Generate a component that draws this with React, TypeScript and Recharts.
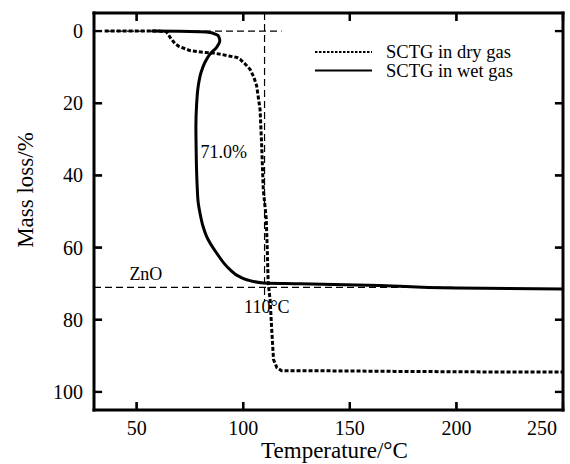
import { LineChart, Line, XAxis, YAxis, ReferenceLine, ReferenceDot, Legend } from 'recharts';

// SCTG in dry gas (dotted)
const dryTemp = [35, 50, 60, 64, 66, 68, 70, 75, 81, 86, 90, 94, 97, 98.5, 101, 103.2, 105, 106.3, 107.9, 108.6, 109.4, 110.8, 111.3, 111.7, 112.6, 113.3, 114.2, 115.8, 118, 130, 150, 171, 200, 230, 250];
const dryMass = [0, 0, 0, 0.2, 2, 3.5, 4.3, 5.4, 5.9, 6.1, 6.5, 7.0, 7.3, 7.8, 9.2, 10.6, 12.8, 15.2, 21.7, 30.9, 43.9, 52, 61, 69.7, 74.4, 82, 91, 93.3, 94.1, 94.1, 94.2, 94.3, 94.4, 94.5, 94.5];

// SCTG in wet gas (solid) - mass rises steadily, temperature doubles back
const wetTemp = [57, 70, 80, 84.4, 87, 88.3, 89, 87.5, 84.4, 82, 80.2, 78.9, 78.1, 77.8, 77.9, 78.1, 78.4, 78.9, 79.7, 81, 82.8, 87.5, 93.8, 98, 101.6, 109.4, 126.6, 164, 200, 250];
const wetMass = [0, 0.05, 0.2, 0.4, 0.9, 1.3, 2.7, 4.5, 6.4, 8.7, 11.5, 15.2, 20.7, 26.3, 32, 38.3, 43, 47.6, 50.4, 53.8, 56.9, 61.5, 66.1, 68, 68.9, 69.8, 70, 70.5, 71.2, 71.5];

const xTicks = [50, 100, 150, 200, 250];
const yTicks = [0, 20, 40, 60, 80, 100];

const X_DOMAIN: [number, number] = [30, 250];
const Y_DOMAIN: [number, number] = [-5, 105];

const dryData = dryTemp.map((t, i) => ({ t, m: dryMass[i] }));
const wetData = wetTemp.map((t, i) => ({ t, m: wetMass[i] }));

const FONT = '"Liberation Serif", "Times New Roman", serif';
const serif = { fontFamily: FONT };

// inward tick length, in data units (~8px each way)
const TX = 3.8;
const TY = 2.2;

const BottomTick = ({ x, y, payload }: any) => {
  const last = payload.value === 250;
  return (
    <text x={last ? x - 1 : x} y={y} textAnchor={last ? 'end' : 'middle'} fontSize={20} style={serif} fill="#000">
      {payload.value}
    </text>
  );
};

const LeftTick = ({ x, y, payload }: any) => (
  <text x={x} y={y} dy="0.35em" textAnchor="end" fontSize={20} style={serif} fill="#000">
    {payload.value}
  </text>
);

const NoLabel = () => <g />;

const textAt = (value: string) => (p: any) => (
  <text x={p.viewBox.x} y={p.viewBox.y} fontSize={18} style={serif} fill="#000">
    {value}
  </text>
);

const legendItems = [
  { name: 'SCTG in dry gas', dash: '2.5 1.5' },
  { name: 'SCTG in wet gas', dash: undefined },
];

const renderLegend = () => (
  <svg width={240} height={50}>
    {legendItems.map((it, i) => (
      <g key={it.name}>
        <line x1={0} x2={57} y1={10 + i * 18.5} y2={10 + i * 18.5} stroke="#000" strokeWidth={2} strokeDasharray={it.dash} />
        <text x={71} y={16 + i * 18.5} fontSize={18.5} style={serif} fill="#000">
          {it.name}
        </text>
      </g>
    ))}
  </svg>
);

const axisLine = { stroke: '#000', strokeWidth: 3, strokeLinecap: 'square' as const };
const tickLine = { stroke: '#000', strokeWidth: 2.2 };
const refDash = { stroke: '#000', strokeWidth: 1.2, strokeDasharray: '7 4' };
const tickMark = { stroke: '#000', strokeWidth: 2.2, ifOverflow: 'visible' as const };

export default function App() {
  return (
    <div style={{ position: 'absolute', left: 0, top: 0, background: '#fff' }}>
      <LineChart width={570} height={464} margin={{ top: 12, right: 6, bottom: 0, left: 0 }} style={serif}>
        {/* negative tickSize: tick marks point into the plot */}
        <XAxis
          xAxisId="b"
          dataKey="t"
          type="number"
          domain={X_DOMAIN}
          allowDataOverflow
          ticks={xTicks}
          orientation="bottom"
          height={54}
          axisLine={axisLine}
          tickLine={tickLine}
          tickSize={-8}
          tickMargin={33}
          tick={<BottomTick />}
          label={(p: any) => (
            <text x={p.viewBox.x + p.viewBox.width / 2 + 6} y={p.viewBox.y + 48} textAnchor="middle" fontSize={23} style={serif} fill="#000">
              Temperature/°C
            </text>
          )}
        />
        <XAxis
          xAxisId="t"
          dataKey="t"
          type="number"
          domain={X_DOMAIN}
          allowDataOverflow
          ticks={xTicks}
          orientation="top"
          height={1}
          axisLine={axisLine}
          tickLine={tickLine}
          tickSize={-8}
          tick={<NoLabel />}
        />
        <YAxis
          yAxisId="l"
          type="number"
          domain={Y_DOMAIN}
          allowDataOverflow
          reversed
          ticks={yTicks}
          orientation="left"
          width={94}
          axisLine={axisLine}
          tickLine={tickLine}
          tickSize={-8}
          tickMargin={19}
          tick={<LeftTick />}
          label={(p: any) => (
            <text transform={`translate(${p.viewBox.x + 33},190) rotate(-90)`} textAnchor="middle" fontSize={23} style={serif} fill="#000">
              Mass loss/%
            </text>
          )}
        />
        <YAxis
          yAxisId="r"
          type="number"
          domain={Y_DOMAIN}
          allowDataOverflow
          reversed
          ticks={yTicks}
          orientation="right"
          width={1}
          axisLine={axisLine}
          tickLine={tickLine}
          tickSize={-8}
          tick={<NoLabel />}
        />

        {/* same inward marks again through the scales, in case the axis tick lines are skipped */}
        {xTicks.map((v) => (
          <ReferenceLine key={`b${v}`} xAxisId="b" yAxisId="l" segment={[{ x: v, y: Y_DOMAIN[1] }, { x: v, y: Y_DOMAIN[1] - TY }]} {...tickMark} />
        ))}
        {xTicks.map((v) => (
          <ReferenceLine key={`t${v}`} xAxisId="b" yAxisId="l" segment={[{ x: v, y: Y_DOMAIN[0] }, { x: v, y: Y_DOMAIN[0] + TY }]} {...tickMark} />
        ))}
        {yTicks.map((v) => (
          <ReferenceLine key={`l${v}`} xAxisId="b" yAxisId="l" segment={[{ x: X_DOMAIN[0], y: v }, { x: X_DOMAIN[0] + TX, y: v }]} {...tickMark} />
        ))}
        {yTicks.map((v) => (
          <ReferenceLine key={`r${v}`} xAxisId="b" yAxisId="l" segment={[{ x: X_DOMAIN[1], y: v }, { x: X_DOMAIN[1] - TX, y: v }]} {...tickMark} />
        ))}

        <ReferenceLine xAxisId="b" yAxisId="l" segment={[{ x: 30, y: 0 }, { x: 118, y: 0 }]} {...refDash} />
        <ReferenceLine xAxisId="b" yAxisId="l" segment={[{ x: 110, y: -5 }, { x: 110, y: 75 }]} {...refDash} />
        <ReferenceLine xAxisId="b" yAxisId="l" segment={[{ x: 30, y: 71 }, { x: 200, y: 71 }]} {...refDash} />

        <Line
          xAxisId="b"
          yAxisId="l"
          data={wetData}
          dataKey="m"
          type="monotoneY"
          stroke="#000"
          strokeWidth={3}
          strokeLinejoin="round"
          dot={false}
          isAnimationActive={false}
          name="SCTG in wet gas"
        />
        <Line
          xAxisId="t"
          yAxisId="r"
          data={dryData}
          dataKey="m"
          type="linear"
          stroke="#000"
          strokeWidth={3}
          strokeDasharray="4 2"
          dot={false}
          isAnimationActive={false}
          name="SCTG in dry gas"
        />

        <ReferenceDot xAxisId="b" yAxisId="l" x={80} y={35.3} r={0} fill="none" stroke="none" label={textAt('71.0%')} />
        <ReferenceDot xAxisId="b" yAxisId="l" x={46.6} y={68.9} r={0} fill="none" stroke="none" label={textAt('ZnO')} />
        <ReferenceDot xAxisId="b" yAxisId="l" x={100.4} y={78.1} r={0} fill="none" stroke="none" label={textAt('110°C')} />

        <Legend
          layout="vertical"
          align="center"
          verticalAlign="middle"
          content={renderLegend}
          wrapperStyle={{ position: 'absolute', left: 315, top: 42, width: 240, height: 50 }}
        />
      </LineChart>
    </div>
  );
}
